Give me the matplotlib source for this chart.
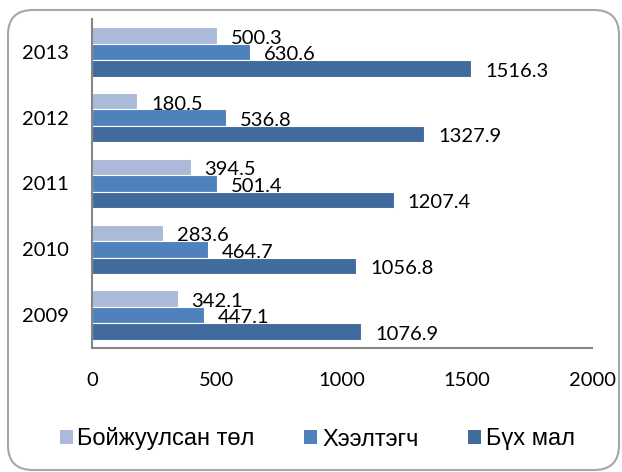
import matplotlib.pyplot as plt
import numpy as np
from matplotlib.patches import FancyBboxPatch, Patch

years = ['2009', '2010', '2011', '2012', '2013']
series_names = ['Бойжуулсан төл', 'Хээлтэгч', 'Бүх мал']
boijuulsan = [342.1, 283.6, 394.5, 180.5, 500.3]
heeltegch = [447.1, 464.7, 501.4, 536.8, 630.6]
buh_mal = [1076.9, 1056.8, 1207.4, 1327.9, 1516.3]
x_ticks = [0, 500, 1000, 1500, 2000]

colors = ['#aabad8', '#4f81bd', '#406b9c']

fig = plt.figure(figsize=(6.22, 4.72), dpi=100)
ax = fig.add_axes([92 / 622, 1 - 348 / 472, 500 / 622, 329 / 472])

# rounded outer frame
frame = FancyBboxPatch((8 / 622, 2 / 472), 611 / 622, 460 / 472,
                       boxstyle='round,pad=0,rounding_size=0.04',
                       transform=fig.transFigure, facecolor='none',
                       edgecolor='#a6a6a6', linewidth=1.5, mutation_aspect=622 / 472)
fig.patches.append(frame)

y = np.arange(len(years))
h = 0.25
offsets = [h, 0, -h]
for vals, off, col in zip([boijuulsan, heeltegch, buh_mal], offsets, colors):
    bars = ax.barh(y + off, vals, height=h, color=col, edgecolor='white', linewidth=0.8)
    for b, v in zip(bars, vals):
        ax.annotate(f'{v}', (b.get_width(), b.get_y() + b.get_height() / 2),
                    xytext=(10, -2), textcoords='offset points',
                    ha='left', va='center', fontsize=14.5, family='Lato')

ax.set_xlim(0, 2000)
ax.set_ylim(-0.5, 4.5)
ax.set_xticks(x_ticks)
ax.set_yticks(y, years)
ax.tick_params(length=0, pad=17, labelsize=14.5)
for lab in ax.get_xticklabels() + ax.get_yticklabels():
    lab.set_family('Lato')
for s in ['top', 'right']:
    ax.spines[s].set_visible(False)
for s in ['left', 'bottom']:
    ax.spines[s].set_color('#868686')
    ax.spines[s].set_linewidth(1.5)

handles = [Patch(facecolor=c, edgecolor='none') for c in colors]
fig.legend(handles, series_names, loc='center', bbox_to_anchor=(0.51, 33 / 472),
           ncol=3, frameon=False, handlelength=0.55, handleheight=0.55,
           handletextpad=0.2, columnspacing=2.1,
           prop={'family': 'Liberation Sans', 'size': 17})

fig.savefig('out.png', dpi=100)
